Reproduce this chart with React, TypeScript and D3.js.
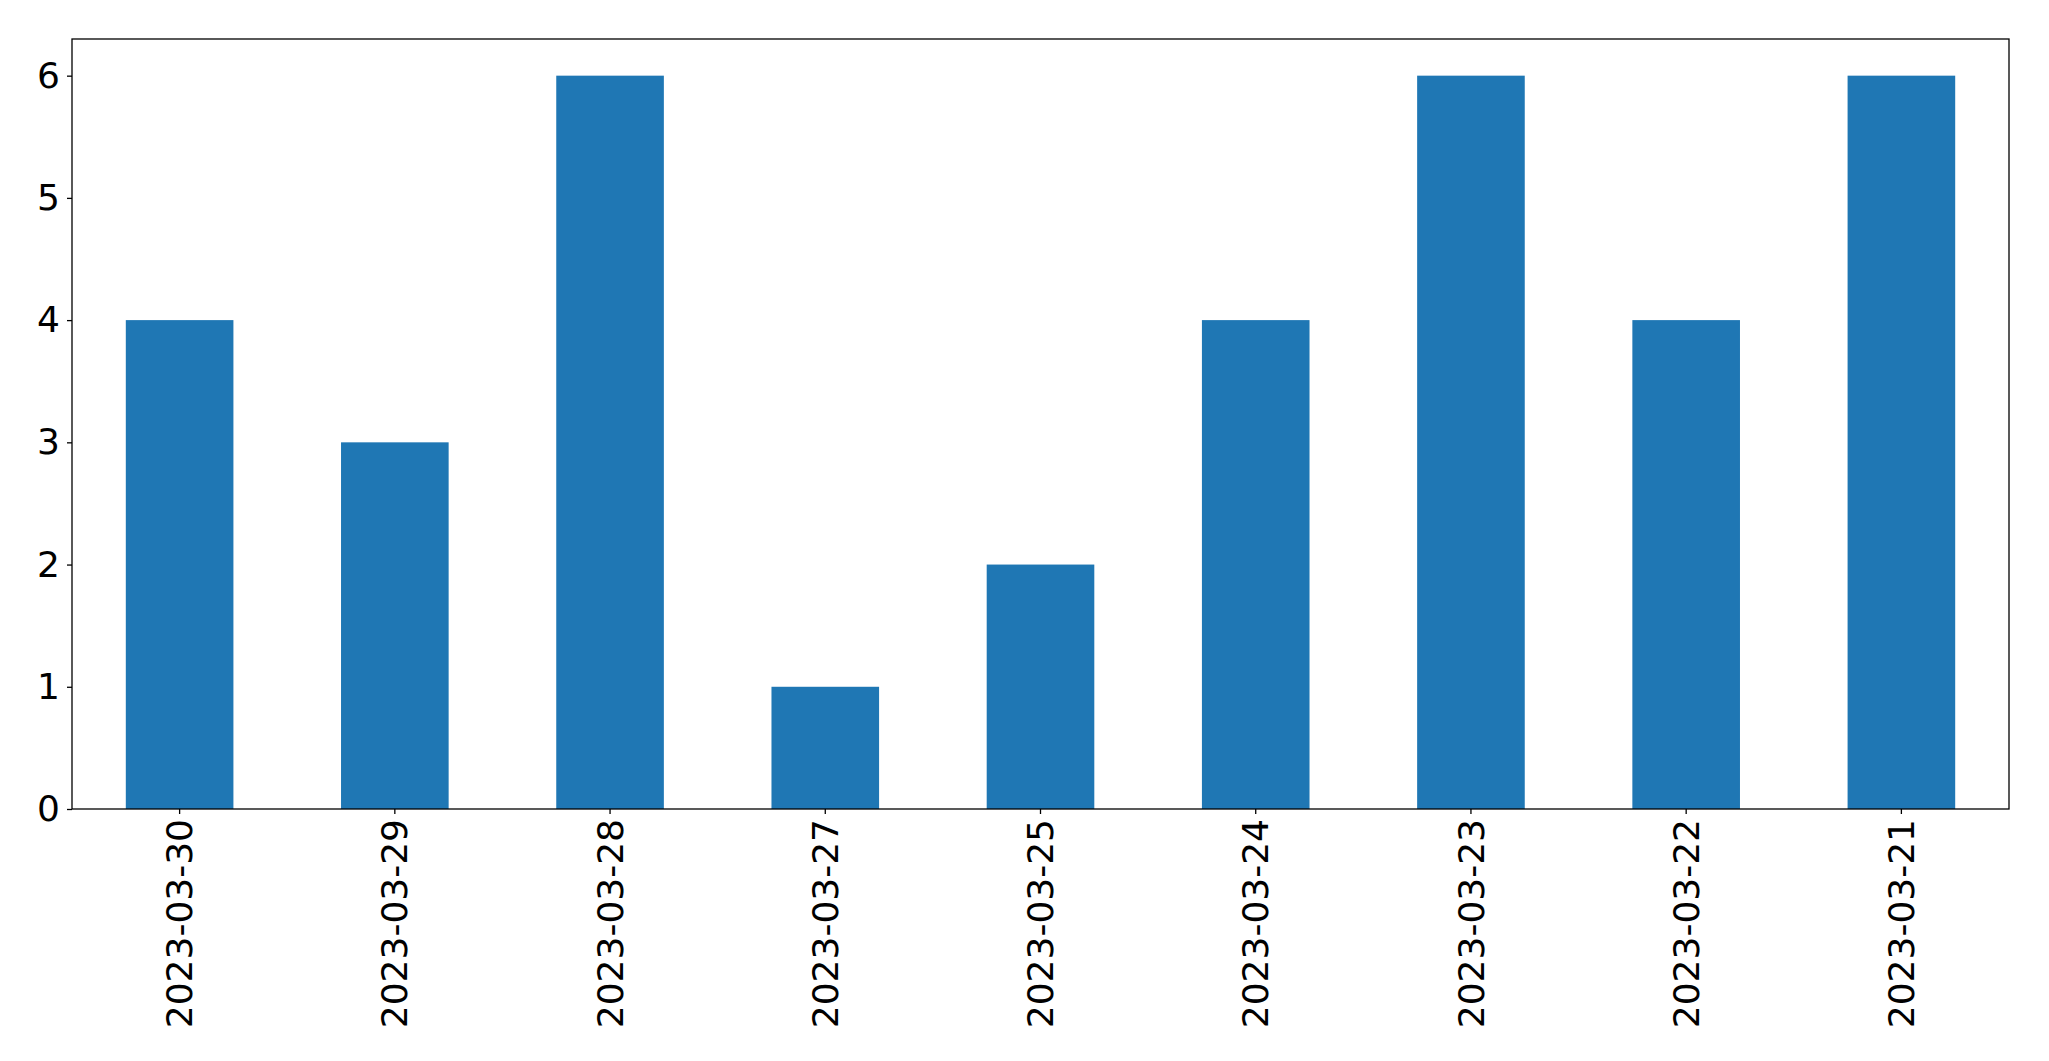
import { useEffect, useRef } from "react";
import * as d3 from "d3";

const dates = [
  "2023-03-30",
  "2023-03-29",
  "2023-03-28",
  "2023-03-27",
  "2023-03-25",
  "2023-03-24",
  "2023-03-23",
  "2023-03-22",
  "2023-03-21",
];
const counts = [4, 3, 6, 1, 2, 4, 6, 4, 6];
const yTicks = [0, 1, 2, 3, 4, 5, 6];

const width = 2049;
const height = 1061;
const margin = { left: 72, right: 40, top: 39, bottom: 252 };
const fontSize = 36;

function App() {
  const svgRef = useRef<SVGSVGElement | null>(null);

  useEffect(() => {
    const svg = d3.select(svgRef.current);
    svg.selectAll("*").remove();

    const innerW = width - margin.left - margin.right;
    const innerH = height - margin.top - margin.bottom;

    // matplotlib style: bar width 0.5 per category slot
    const x = d3
      .scaleBand<string>()
      .domain(dates)
      .range([margin.left, margin.left + innerW])
      .paddingInner(0.5)
      .paddingOuter(0.25);
    const y = d3
      .scaleLinear()
      .domain([0, 6.3])
      .range([margin.top + innerH, margin.top]);

    svg
      .append("g")
      .selectAll("rect")
      .data(dates)
      .join("rect")
      .attr("x", (d) => x(d) as number)
      .attr("y", (d, i) => y(counts[i]))
      .attr("width", x.bandwidth())
      .attr("height", (d, i) => y(0) - y(counts[i]))
      .attr("fill", "#1f77b4");

    const xAxis = svg
      .append("g")
      .attr("transform", `translate(0, ${margin.top + innerH})`)
      .call(d3.axisBottom(x).tickSize(5).tickSizeOuter(0));
    xAxis.select(".domain").remove();
    xAxis
      .selectAll("text")
      .attr("font-size", fontSize)
      .attr("font-family", "DejaVu Sans")
      .attr("fill", "#000")
      .attr("transform", "rotate(-90)")
      .attr("text-anchor", "end")
      .attr("dy", "0.35em")
      .attr("x", -10)
      .attr("y", 0);
    xAxis.selectAll("line").attr("stroke", "#000").attr("stroke-width", 1.3);

    const yAxis = svg
      .append("g")
      .attr("transform", `translate(${margin.left}, 0)`)
      .call(
        d3
          .axisLeft(y)
          .tickValues(yTicks)
          .tickFormat(d3.format("d"))
          .tickSize(5)
          .tickPadding(7)
      );
    yAxis.select(".domain").remove();
    yAxis
      .selectAll("text")
      .attr("font-size", fontSize)
      .attr("font-family", "DejaVu Sans")
      .attr("fill", "#000");
    yAxis.selectAll("line").attr("stroke", "#000").attr("stroke-width", 1.3);

    svg
      .append("rect")
      .attr("x", margin.left)
      .attr("y", margin.top)
      .attr("width", innerW)
      .attr("height", innerH)
      .attr("fill", "none")
      .attr("stroke", "#000")
      .attr("stroke-width", 1.3);
  }, []);

  return (
    <svg
      ref={svgRef}
      width={width}
      height={height}
      style={{ position: "absolute", left: 0, top: 0, background: "#fff" }}
    ></svg>
  );
}

export default App;
